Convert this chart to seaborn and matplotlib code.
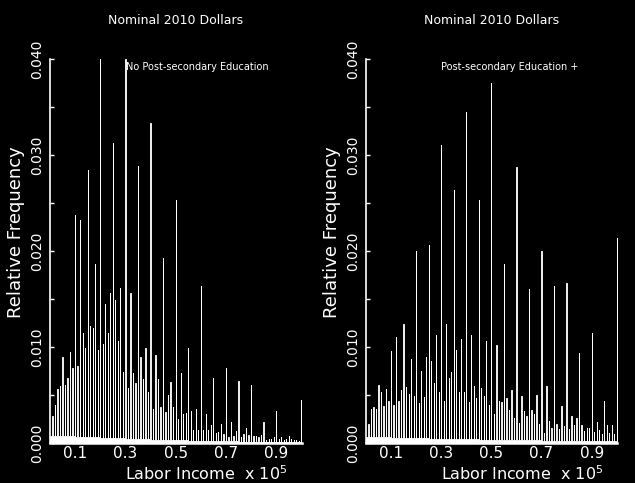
import numpy as np
import pandas as pd
import matplotlib
matplotlib.use("Agg")
import matplotlib.pyplot as plt
import seaborn as sns

# income in units of 1e5 dollars, one heaped spike every $1000
income_k = np.arange(1, 101) / 100.0

# relative frequency at each $1000 value, no post-secondary education
no_post = [
    0.0028, 0.0040, 0.0056, 0.0059, 0.0090, 0.0060, 0.0068, 0.0095, 0.0078, 0.0237,
    0.0080, 0.0232, 0.0115, 0.0099, 0.0284, 0.0122, 0.0120, 0.0186, 0.0097, 0.0400,
    0.0103, 0.0145, 0.0115, 0.0156, 0.0312, 0.0149, 0.0106, 0.0161, 0.0074, 0.0400,
    0.0057, 0.0156, 0.0073, 0.0062, 0.0289, 0.0090, 0.0067, 0.0099, 0.0053, 0.0333,
    0.0035, 0.0092, 0.0067, 0.0037, 0.0193, 0.0032, 0.0050, 0.0064, 0.0037, 0.0253,
    0.0025, 0.0073, 0.0030, 0.0031, 0.0099, 0.0033, 0.0014, 0.0035, 0.0014, 0.0164,
    0.0014, 0.0030, 0.0014, 0.0019, 0.0068, 0.0010, 0.0011, 0.0020, 0.0009, 0.0078,
    0.0006, 0.0022, 0.0007, 0.0012, 0.0065, 0.0006, 0.0009, 0.0016, 0.0008, 0.0060,
    0.0007, 0.0007, 0.0006, 0.0008, 0.0022, 0.0003, 0.0004, 0.0004, 0.0006, 0.0033,
    0.0004, 0.0006, 0.0003, 0.0004, 0.0007, 0.0004, 0.0003, 0.0003, 0.0002, 0.0045,
]

# post-secondary education +
post = [
    0.0020, 0.0035, 0.0038, 0.0035, 0.0060, 0.0053, 0.0039, 0.0056, 0.0044, 0.0096,
    0.0040, 0.0110, 0.0044, 0.0055, 0.0124, 0.0058, 0.0051, 0.0088, 0.0049, 0.0200,
    0.0042, 0.0075, 0.0048, 0.0090, 0.0206, 0.0085, 0.0062, 0.0112, 0.0053, 0.0310,
    0.0044, 0.0124, 0.0068, 0.0074, 0.0264, 0.0097, 0.0053, 0.0108, 0.0053, 0.0345,
    0.0043, 0.0113, 0.0059, 0.0047, 0.0253, 0.0057, 0.0049, 0.0106, 0.0040, 0.0375,
    0.0030, 0.0102, 0.0044, 0.0043, 0.0186, 0.0047, 0.0034, 0.0055, 0.0026, 0.0288,
    0.0021, 0.0049, 0.0033, 0.0028, 0.0160, 0.0034, 0.0030, 0.0050, 0.0020, 0.0200,
    0.0010, 0.0059, 0.0023, 0.0016, 0.0164, 0.0020, 0.0015, 0.0039, 0.0018, 0.0167,
    0.0015, 0.0028, 0.0019, 0.0026, 0.0094, 0.0019, 0.0012, 0.0016, 0.0016, 0.0115,
    0.0011, 0.0022, 0.0014, 0.0009, 0.0044, 0.0019, 0.0010, 0.0019, 0.0009, 0.0214,
]

# low background level between the spikes, per $5000 band
no_post_floor = [0.0007, 0.0007, 0.0006, 0.0006, 0.0005, 0.0005, 0.0004, 0.0004, 0.0003, 0.0003,
                 0.0003, 0.0002, 0.0002, 0.0002, 0.0002, 0.0001, 0.0001, 0.0001, 0.0001, 0.0001]
post_floor = [0.0006, 0.0006, 0.0005, 0.0005, 0.0005, 0.0004, 0.0004, 0.0004, 0.0004, 0.0003,
              0.0003, 0.0003, 0.0003, 0.0003, 0.0002, 0.0002, 0.0002, 0.0002, 0.0002, 0.0002]

panels = [
    ("No Post-secondary Education", no_post, no_post_floor, [0.0787, 0.0828, 0.397, 0.795]),
    ("Post-secondary Education +", post, post_floor, [0.5764, 0.0828, 0.396, 0.795]),
]

sns.set_style("ticks")
plt.rcParams["font.family"] = ["DejaVu Sans"]

fig = plt.figure(figsize=(6.35, 4.83), dpi=100, facecolor="black")

half = 0.0005
edges = np.sort(np.concatenate([[0.0], income_k - half, income_k + half])).tolist()

for label, spikes, floor, pos in panels:
    ax = fig.add_axes(pos, facecolor="black")
    gap_x = income_k - 0.005
    gap_w = np.repeat(floor, 5)
    df = pd.DataFrame({
        "x": np.concatenate([income_k, gap_x]),
        "w": np.concatenate([spikes, gap_w]),
    })
    sns.histplot(data=df, x="x", weights="w", bins=edges, element="step",
                 fill=True, color="white", alpha=1, linewidth=0.6, ax=ax)

    ax.set_xlim(0, 1.003)
    ax.set_ylim(0, 0.040)
    for s in ["top", "right"]:
        ax.spines[s].set_visible(False)
    ax.spines["left"].set_color("white")
    ax.spines["bottom"].set_color("white")
    ax.spines["left"].set_linewidth(1.2)
    ax.spines["bottom"].set_linewidth(1.8)

    ax.set_yticks([0, 0.01, 0.02, 0.03, 0.04])
    ax.set_yticklabels(["0.000", "0.010", "0.020", "0.030", "0.040"],
                       rotation=90, va="center", fontsize=10, color="white")
    ax.set_yticks(np.arange(0.005, 0.04, 0.01), minor=True)
    ax.set_xticks([0.1, 0.3, 0.5, 0.7, 0.9])
    ax.set_xticklabels(["0.1", "0.3", "0.5", "0.7", "0.9"], fontsize=11, color="white")
    ax.tick_params(axis="y", which="both", direction="in", colors="white",
                   length=3, width=1, pad=4)
    ax.tick_params(axis="x", direction="in", colors="white", length=0, pad=2)

    ax.set_xlabel("")
    ax.set_ylabel("")
    ax.text(0.62, -0.097, r"Labor Income  x 10$^5$", transform=ax.transAxes,
            ha="center", va="baseline", fontsize=11.5, color="white")
    ax.text(-0.135, 0.55, "Relative Frequency", transform=ax.transAxes,
            rotation=90, ha="center", va="center", fontsize=13, color="white")
    ax.text(0.5, 1.10, "Nominal 2010 Dollars", transform=ax.transAxes,
            ha="center", va="center", fontsize=9, color="white")
    ax.text(0.30, 0.979, label, transform=ax.transAxes,
            ha="left", va="center", fontsize=7, color="white")

fig.savefig("out.png", dpi=100, facecolor="black")
